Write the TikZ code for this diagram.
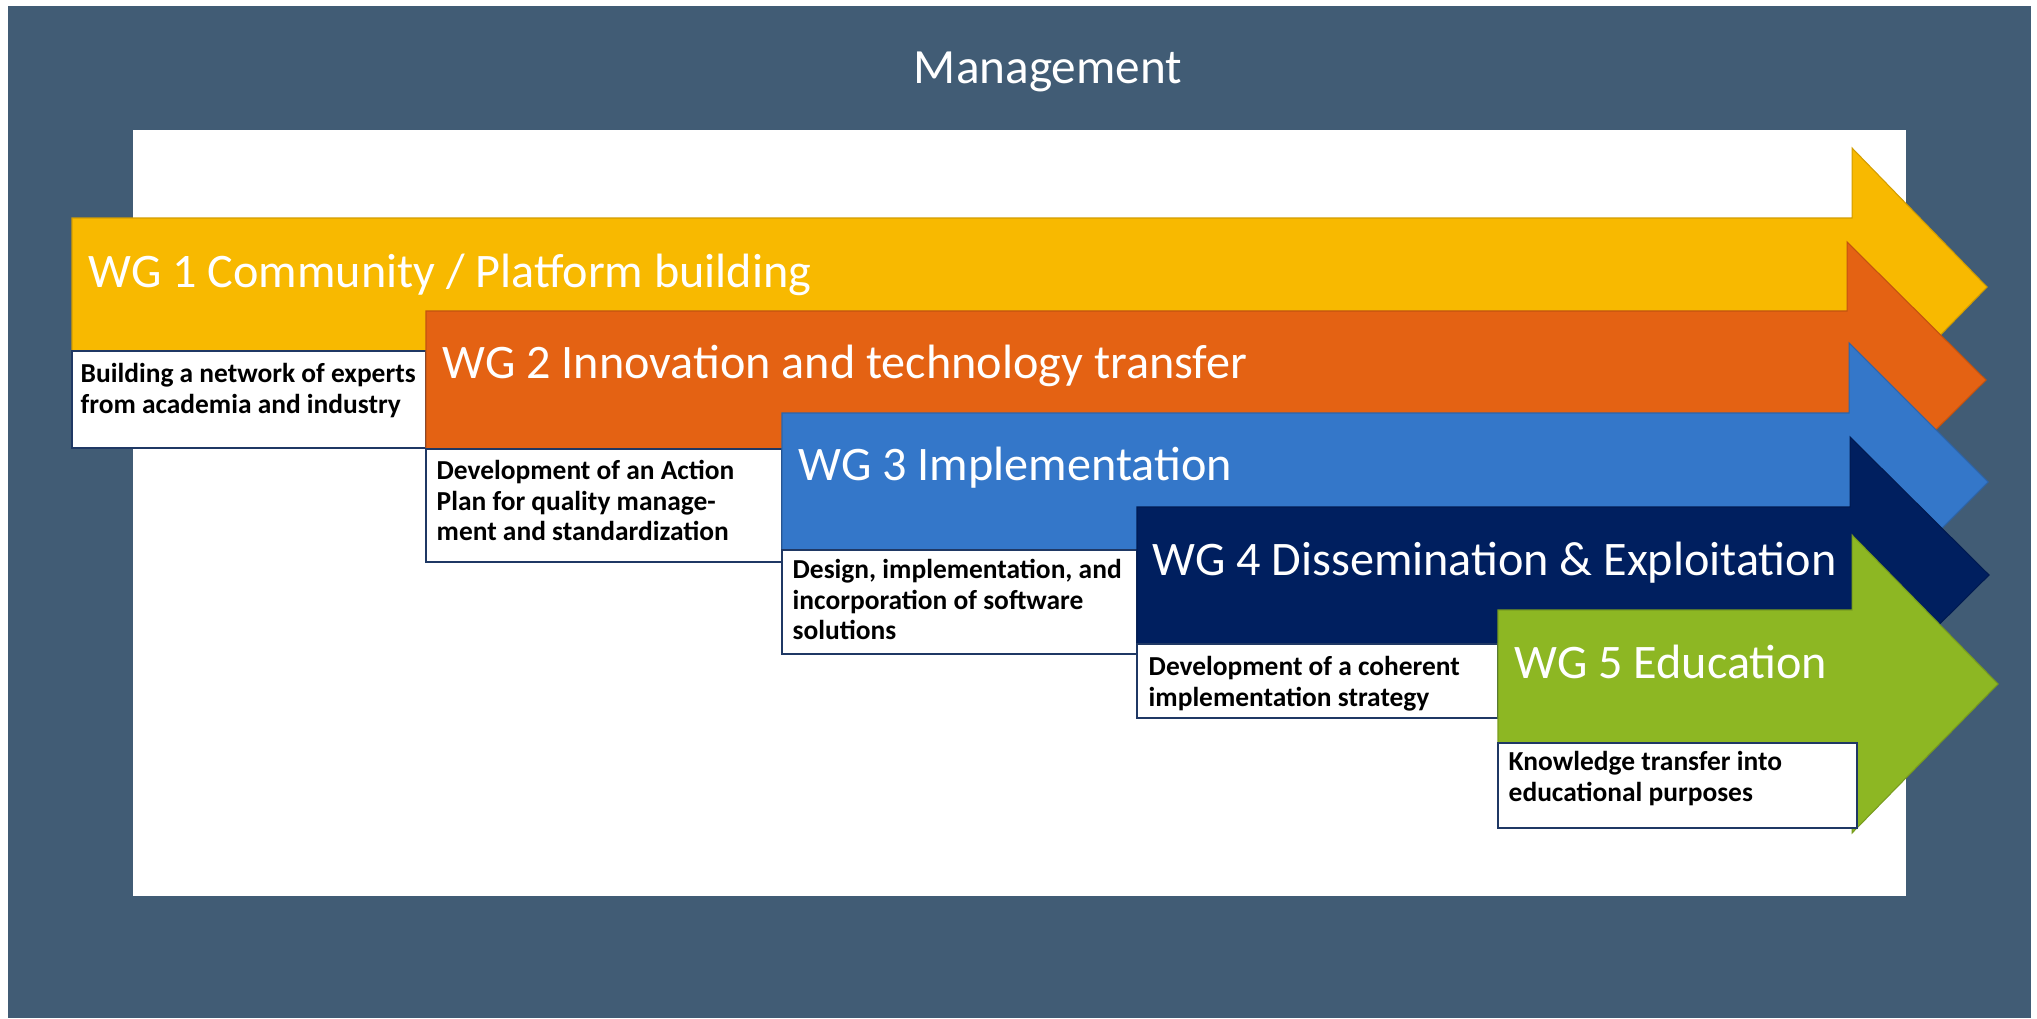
\documentclass[tikz,border=0pt]{standalone}
\usepackage{fontspec}
\setmainfont{Carlito}

\definecolor{mgmtblue}{HTML}{415C75}
\definecolor{wgyellow}{HTML}{F8B900}
\definecolor{wgorange}{HTML}{E46213}
\definecolor{wgblue}{HTML}{3477C9}
\definecolor{wgnavy}{HTML}{001F5F}
\definecolor{wggreen}{HTML}{8DB723}
\definecolor{boxline}{HTML}{1F3864}

\tikzset{
  wgshape/.style={draw=#1!85!black, line width=0.3pt, fill=#1},
  wgshine/.style={top color=#1, middle color=#1!45!white, bottom color=#1},
  wgtitle/.style={anchor=base west, inner sep=0pt, text=white,
    font=\fontsize{13.7}{16}\selectfont},
  descbox/.style={fill=white, draw=boxline, line width=0.8pt},
  desctext/.style={anchor=north west, align=left, inner sep=0pt,
    font=\bfseries\fontsize{7.8}{8.6}\selectfont}
}

\begin{document}
\begin{tikzpicture}[x=0.01cm,y=-0.01cm]
      \useasboundingbox (0,0) rectangle (2037,1018);
      \fill[mgmtblue] (8,6) rectangle (2031,1018);
      \fill[white] (133,130) rectangle (1906,896);
      \node[anchor=base, inner sep=0pt, text=white, font=\fontsize{14}{16}\selectfont] (mgmt) at (1048,83) {Management};

      % WG 1
      \draw[wgshape=wgyellow] (72,218) -- (1852,218) -- (1852,148) -- (1987,287) -- (1852,426) -- (1852,351) -- (72,351) -- cycle;
      \shade[wgshine=wgyellow] (76,222) rectangle (1852,236);
      \node[wgtitle] (wg1) at (88,287) {WG 1 Community / Platform building};
      \draw[descbox] (72,351) rectangle (426,448);
      \node[desctext] (d1) at (80,363) {Building a network of experts\\from academia and industry};

      % WG 2
      \draw[wgshape=wgorange] (426,311) -- (1847,311) -- (1847,242) -- (1986,380) -- (1847,518) -- (1847,449) -- (426,449) -- cycle;
      \shade[wgshine=wgorange] (430,315) rectangle (1847,329);
      \node[wgtitle] (wg2) at (442,378) {WG 2 Innovation and technology transfer};
      \draw[descbox] (426,449) rectangle (782,562);
      \node[desctext] (d2) at (436,460) {Development of an Action\\Plan for quality manage-\\ment and standardization};

      % WG 3
      \draw[wgshape=wgblue] (782,413) -- (1849,413) -- (1849,343) -- (1988,482) -- (1849,621) -- (1849,550) -- (782,550) -- cycle;
      \shade[wgshine=wgblue] (786,417) rectangle (1849,431);
      \node[wgtitle] (wg3) at (798,480) {WG 3 Implementation};
      \draw[descbox] (782,550) rectangle (1137,654);
      \node[desctext] (d3) at (792,559) {Design, implementation, and\\incorporation of software\\solutions};

      % WG 4
      \draw[wgshape=wgnavy] (1137,507) -- (1850,507) -- (1850,437) -- (1989,575) -- (1850,713) -- (1850,644) -- (1137,644) -- cycle;
      \shade[wgshine=wgnavy] (1141,511) rectangle (1850,525);
      \node[wgtitle] (wg4) at (1152,575) {WG 4 Dissemination \& Exploitation};
      \draw[descbox] (1137,644) rectangle (1498,718);
      \node[desctext] (d4) at (1148,656) {Development of a coherent\\implementation strategy};

      % WG 5
      \draw[wgshape=wggreen] (1498,610) -- (1852,610) -- (1852,535) -- (1998,684) -- (1852,833) -- (1852,743) -- (1498,743) -- cycle;
      \shade[wgshine=wggreen] (1502,614) rectangle (1852,628);
      \node[wgtitle] (wg5) at (1514,678) {WG 5 Education};
      \draw[descbox] (1498,743) rectangle (1857,828);
      \node[desctext] (d5) at (1508,751) {Knowledge transfer into\\educational purposes};
\end{tikzpicture}
\end{document}
